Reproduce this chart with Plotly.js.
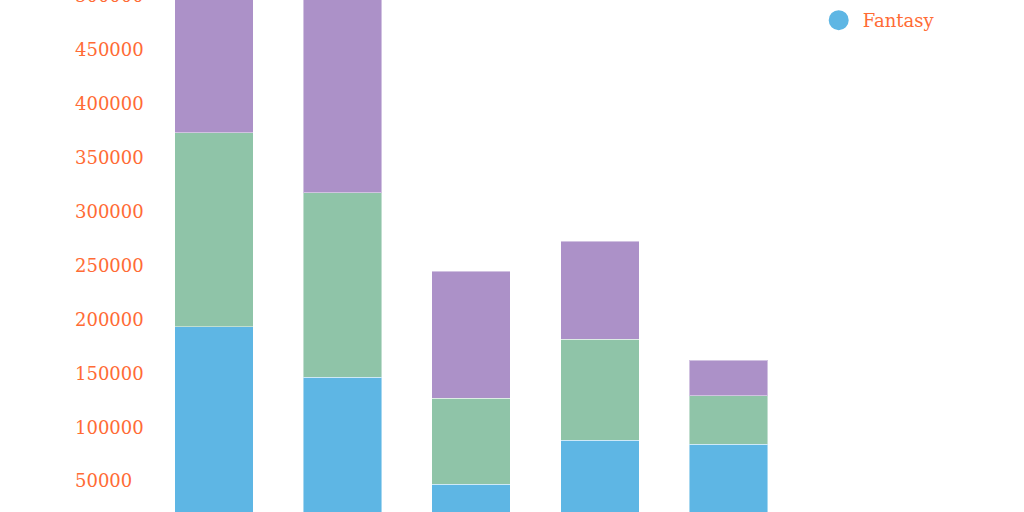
<!DOCTYPE html>
<html>
<head>
<meta charset="utf-8">
<script src="https://cdn.plot.ly/plotly-3.0.1.min.js"></script>
<style>
html,body{margin:0;padding:0;overflow:hidden;background:#fff;width:1024px;height:512px;}
#chart{position:absolute;left:0;top:-67px;width:1024px;height:662px;}
</style>
</head>
<body>
<div id="chart"></div>
<script>
// Data
const categories = ["2014", "2015", "2016", "2017", "2018"];
const fantasy = [193000, 146500, 47300, 88100, 84400];
const scienceFiction = [180000, 171000, 79800, 93700, 44600];
const mystery = [190000, 283000, 117800, 90900, 33300];
const seriesNames = ["Fantasy", "Science Fiction", "Mystery"];
const seriesColors = ["#5eb6e4", "#8fc4a8", "#ac91c8"];
const yTicks = [50000, 100000, 150000, 200000, 250000, 300000, 350000, 400000, 450000, 500000];

const values = [fantasy, scienceFiction, mystery];
const font = {family: "'Roboto Slab', 'DejaVu Serif', serif", size: 18, color: "#ff6b35"};

const traces = [];
values.forEach((vals, i) => {
  traces.push({
    type: "bar",
    x: categories,
    y: vals,
    name: seriesNames[i],
    showlegend: false,
    marker: {color: seriesColors[i], line: {color: "rgba(255,255,255,0.45)", width: 1}},
    hoverinfo: "x+y+name"
  });
});
// legend entries (top to bottom: last series first, as in a stacked legend)
for (let i = values.length - 1; i >= 0; i--) {
  traces.push({
    type: "scatter",
    mode: "markers",
    x: [null],
    y: [null],
    name: seriesNames[i],
    legendgroup: "g" + i,
    showlegend: true,
    marker: {color: seriesColors[i], size: 16, symbol: "circle", line: {color: seriesColors[i], width: 4}}
  });
}

const layout = {
  width: 1024,
  height: 662,
  margin: {l: 72, r: 231, t: 20, b: 60, autoexpand: false},
  barmode: "stack",
  bargap: 0.39,
  paper_bgcolor: "#ffffff",
  plot_bgcolor: "#ffffff",
  font: font,
  xaxis: {
    type: "category",
    range: [-1.104, 4.502],
    showgrid: false,
    zeroline: false,
    showline: false,
    showticklabels: false,
    ticks: "",
    tickfont: font
  },
  yaxis: {
    range: [0, 540000],
    tickvals: yTicks,
    ticktext: yTicks.map(String),
    ticklabelposition: "inside",
    showgrid: false,
    zeroline: false,
    showline: false,
    ticks: "",
    tickfont: font
  },
  legend: {
    x: 1.0301,
    xanchor: "left",
    y: 0.852,
    yanchor: "bottom",
    traceorder: "grouped",
    tracegroupgap: 28,
    itemwidth: 38,
    font: font,
    bgcolor: "rgba(0,0,0,0)"
  },
  showlegend: true
};

Plotly.newPlot("chart", traces, layout, {displayModeBar: false});
</script>
</body>
</html>
